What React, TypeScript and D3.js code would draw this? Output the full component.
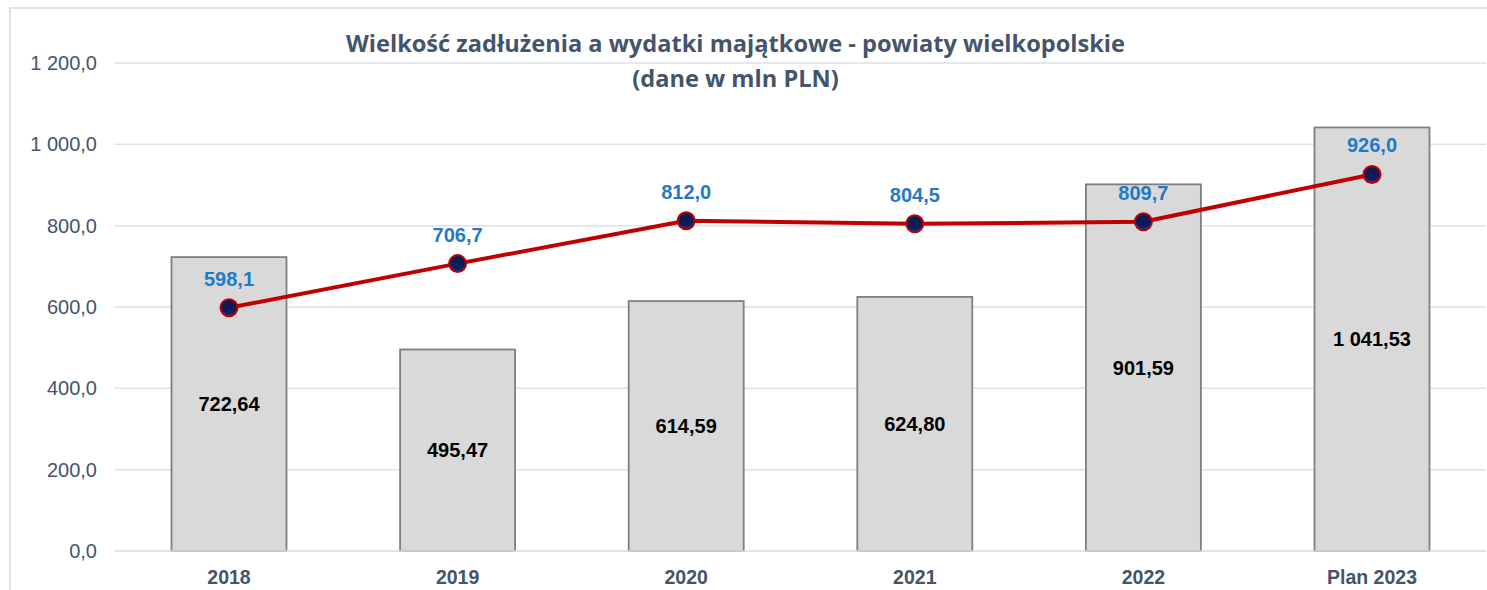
import React from "react";
import * as d3 from "d3";

const categories = ["2018", "2019", "2020", "2021", "2022", "Plan 2023"];
const barValues = [722.64, 495.47, 614.59, 624.8, 901.59, 1041.53];
const lineValues = [598.1, 706.7, 812.0, 804.5, 809.7, 926.0];
const yTicks = [0, 200, 400, 600, 800, 1000, 1200];
const titleLines = ["Wielkość zadłużenia a wydatki majątkowe - powiaty wielkopolskie", "(dane w mln PLN)"];

const W = 1487;
const H = 590;

const fmt1 = (v: number) => {
  const s = v.toFixed(1).replace(".", ",");
  const [i, d] = s.split(",");
  return i.replace(/\B(?=(\d{3})+(?!\d))/g, " ") + "," + d;
};
const fmt2 = (v: number) => {
  const s = v.toFixed(2);
  const [i, d] = s.split(".");
  return i.replace(/\B(?=(\d{3})+(?!\d))/g, " ") + "," + d;
};

export default function App() {
  const x = d3
    .scaleBand<string>()
    .domain(categories)
    .range([114.7, 1486.3])
    .paddingInner(0.497)
    .paddingOuter(0.2485);
  const y = d3.scaleLinear().domain([0, 1200]).range([551, 63]);
  const cx = (c: string) => (x(c) as number) + x.bandwidth() / 2;

  const line = d3
    .line<number>()
    .x((_, i) => cx(categories[i]))
    .y((d) => y(d));

  const axisColor = "#44546A";
  const font = "'Liberation Sans', Arial, sans-serif";
  const titleFont = "'Open Sans', Lato, sans-serif";

  return (
    <svg
      width={W}
      height={H}
      style={{ position: "absolute", left: 0, top: 0, background: "#fff" }}
    >
      <defs>
        <radialGradient id="mk" cx="50%" cy="35%" r="65%">
          <stop offset="0%" stopColor="#0a1a52" />
          <stop offset="70%" stopColor="#0b1d5e" />
          <stop offset="100%" stopColor="#2a3f8a" />
        </radialGradient>
      </defs>
      <rect x={10} y={8} width={W} height={H} fill="none" stroke="#D9D9D9" strokeWidth={1.5} />
      {yTicks.map((t) => (
        <g key={t}>
          <line x1={114.7} x2={1486} y1={y(t)} y2={y(t)} stroke="#DDE2E8" strokeWidth={1.5} />
          <text
            x={97}
            y={y(t)}
            dy="0.35em"
            textAnchor="end"
            fontFamily={font}
            fontSize={20}
            fill={axisColor}
          >
            {fmt1(t)}
          </text>
        </g>
      ))}
      {categories.map((c, i) => (
        <g key={c}>
          <rect
            x={x(c)}
            y={y(barValues[i])}
            width={x.bandwidth()}
            height={y(0) - y(barValues[i])}
            fill="#D9D9D9"
            stroke="#7F7F7F"
            strokeWidth={1.8}
          />
          <text
            x={cx(c)}
            y={(y(barValues[i]) + y(0)) / 2}
            dy="0.35em"
            textAnchor="middle"
            fontFamily={font}
            fontWeight="bold"
            fontSize={20}
            fill="#000"
          >
            {fmt2(barValues[i])}
          </text>
          <text
            x={cx(c)}
            y={584}
            textAnchor="middle"
            fontFamily={font}
            fontWeight="bold"
            fontSize={19.5}
            fill={axisColor}
          >
            {c}
          </text>
        </g>
      ))}
      <line x1={114.7} x2={1486} y1={y(0)} y2={y(0)} stroke="#DDE2E8" strokeWidth={1.5} />
      <path d={line(lineValues) || ""} fill="none" stroke="#C00000" strokeWidth={4} strokeLinejoin="round" />
      {lineValues.map((v, i) => (
        <g key={i}>
          <circle cx={cx(categories[i])} cy={y(v)} r={8.5} fill="url(#mk)" stroke="#C00000" strokeWidth={2} />
          <text
            x={cx(categories[i])}
            y={y(v) - 22}
            textAnchor="middle"
            fontFamily={font}
            fontWeight="bold"
            fontSize={20}
            fill="#1F7AC8"
          >
            {fmt1(v)}
          </text>
        </g>
      ))}
      <text
        x={735.5}
        y={52}
        textAnchor="middle"
        fontFamily={titleFont}
        fontWeight={700}
        fontSize={23.6}
        fill={axisColor}
      >
        {titleLines[0]}
      </text>
      <text
        x={735.5}
        y={87}
        textAnchor="middle"
        fontFamily={titleFont}
        fontWeight={700}
        fontSize={23.6}
        fill={axisColor}
      >
        {titleLines[1]}
      </text>
    </svg>
  );
}
